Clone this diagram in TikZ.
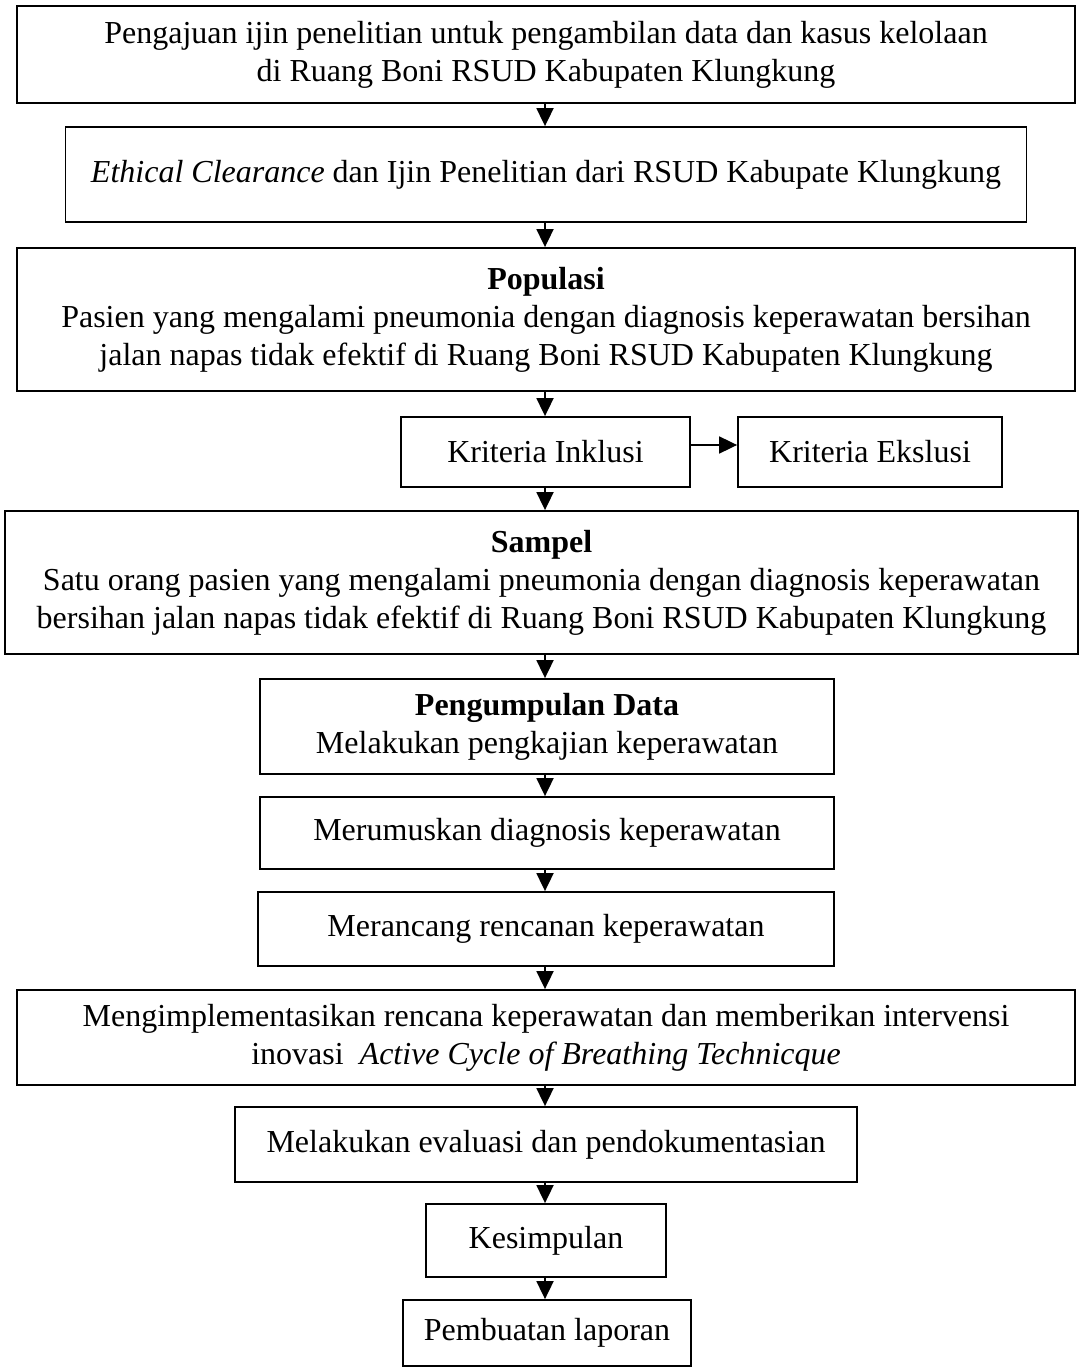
\documentclass[tikz,border=0pt]{standalone}
\usepackage{fontspec}
\setmainfont{Liberation Serif}
\usepackage{tikz}
\usetikzlibrary{arrows.meta}

\begin{document}
\begin{tikzpicture}[x=0.5pt,y=-0.5pt,
	kotak/.style={draw=black, line width=0.9pt, align=center, inner sep=0pt, font=\fontsize{16}{19}\selectfont},
	panah/.style={line width=0.9pt, -{Triangle[width=8.5pt,length=9pt]}}]
	\useasboundingbox (0,0) rectangle (1079,1368);

	\node (ijin)     at (546,54.5)   [kotak, minimum width=529pt, minimum height=48.5pt] {Pengajuan ijin penelitian untuk pengambilan data dan kasus kelolaan\\ di Ruang Boni RSUD Kabupaten Klungkung};
	\node (ethical)  at (546,174.5)  [kotak, minimum width=480.5pt, minimum height=47.5pt] {\textit{Ethical Clearance} dan Ijin Penelitian dari RSUD Kabupate Klungkung};
	\node (populasi) at (546,319.5)  [kotak, minimum width=529pt, minimum height=71.5pt] {\textbf{Populasi}\\ Pasien yang mengalami pneumonia dengan diagnosis keperawatan bersihan\\ jalan napas tidak efektif di Ruang Boni RSUD Kabupaten Klungkung};
	\node (inklusi)  at (545.5,452)  [kotak, minimum width=144.5pt, minimum height=35pt] {Kriteria Inklusi};
	\node (ekslusi)  at (870,452)    [kotak, minimum width=132pt, minimum height=35pt] {Kriteria Ekslusi};
	\node (sampel)   at (541.5,582.5)[kotak, minimum width=536.5pt, minimum height=71.5pt] {\textbf{Sampel}\\ Satu orang pasien yang mengalami pneumonia dengan diagnosis keperawatan\\ bersihan jalan napas tidak efektif di Ruang Boni RSUD Kabupaten Klungkung};
	\node (kumpul)   at (547,726.5)  [kotak, minimum width=287pt, minimum height=47.5pt] {\textbf{Pengumpulan Data}\\ Melakukan pengkajian keperawatan};
	\node (diagnosa) at (547,833)    [kotak, minimum width=287pt, minimum height=36pt] {Merumuskan diagnosis keperawatan};
	\node (rencana)  at (546,929)    [kotak, minimum width=288pt, minimum height=37pt] {Merancang rencanan keperawatan};
	\node (implem)   at (546,1037.5) [kotak, minimum width=529pt, minimum height=47.5pt] {Mengimplementasikan rencana keperawatan dan memberikan intervensi\\ inovasi\ \ \textit{Active Cycle of Breathing Technicque}};
	\node (evaluasi) at (546,1144.5) [kotak, minimum width=311pt, minimum height=37.5pt] {Melakukan evaluasi dan pendokumentasian};
	\node (simpul)   at (546,1240.5) [kotak, minimum width=120pt, minimum height=36.5pt] {Kesimpulan};
	\node (laporan)  at (547,1333)   [kotak, minimum width=144pt, minimum height=33pt] {Pembuatan laporan};

	% alur utama
	\draw[panah] (545,0 |- ijin.south) -- (545,0 |- ethical.north);
	\draw[panah] (545,0 |- ethical.south) -- (545,0 |- populasi.north);
	\draw[panah] (545,0 |- populasi.south) -- (545,0 |- inklusi.north);
	\draw[panah] (545,0 |- inklusi.south) -- (545,0 |- sampel.north);
	\draw[panah] (545,0 |- sampel.south) -- (545,0 |- kumpul.north);
	\draw[panah] (545,0 |- kumpul.south) -- (545,0 |- diagnosa.north);
	\draw[panah] (545,0 |- diagnosa.south) -- (545,0 |- rencana.north);
	\draw[panah] (545,0 |- rencana.south) -- (545,0 |- implem.north);
	\draw[panah] (545,0 |- implem.south) -- (545,0 |- evaluasi.north);
	\draw[panah] (545,0 |- evaluasi.south) -- (545,0 |- simpul.north);
	\draw[panah] (545,0 |- simpul.south) -- (545,0 |- laporan.north);
	\draw[panah] (inklusi.east |- 0,445) -- (ekslusi.west |- 0,445);

\end{tikzpicture}
\end{document}
